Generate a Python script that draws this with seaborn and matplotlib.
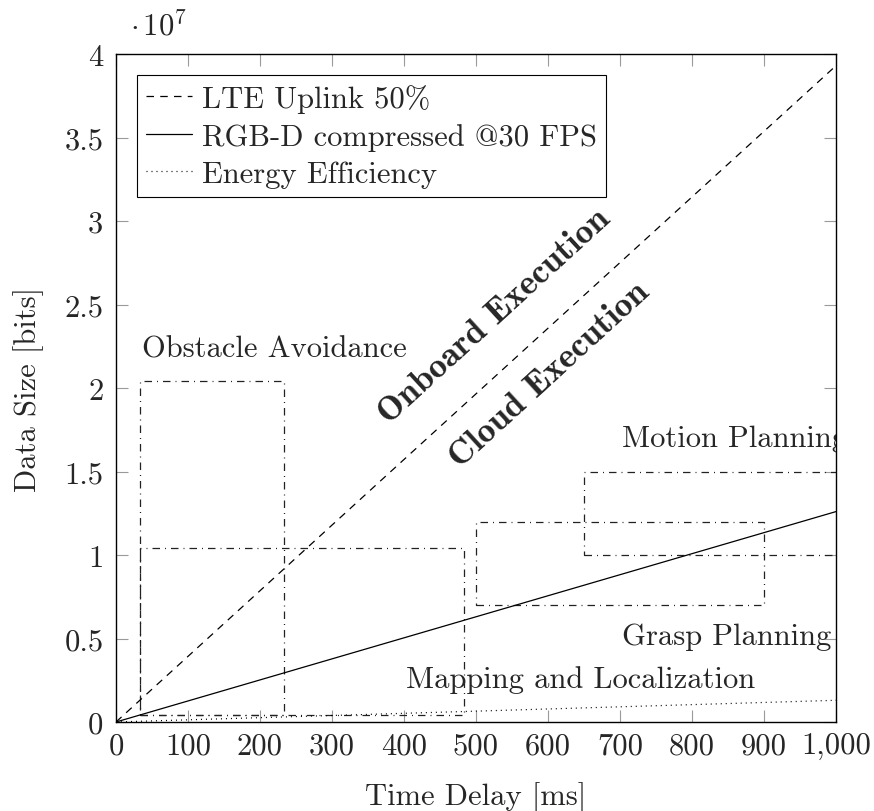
import numpy as np
import pandas as pd
import matplotlib
matplotlib.use("Agg")
import matplotlib.pyplot as plt
from matplotlib.patches import Rectangle
import seaborn as sns

# Link / sensor throughput lines (bits transferred vs. delay)
delay_ms = [0, 1000]
lte_uplink = [0, 3.93e7]
rgbd_30fps = [0, 1.26e7]
energy_eff = [0, 0.13e7]
series_labels = ["LTE Uplink 50%", "RGB-D compressed @30 FPS", "Energy Efficiency"]

# Task requirement regions: delay range [ms] and data size range [bits]
task_names = ["Obstacle Avoidance", "Mapping and Localization", "Grasp Planning", "Motion Planning"]
task_delay_min = [33, 33, 500, 650]
task_delay_max = [233, 483, 900, 1100]
task_size_min = [0.04e7, 0.04e7, 0.7e7, 1.0e7]
task_size_max = [2.04e7, 1.04e7, 1.2e7, 1.5e7]

# Label anchors for the task regions (data coordinates)
task_label_x = [36, 403, 703, 703]
task_label_y = [2.19e7, 0.21e7, 0.467e7, 1.655e7]

region_labels = ["Onboard Execution", "Cloud Execution"]
region_label_x = [526, 602]
region_label_y = [2.43e7, 2.08e7]

x_ticks = [0, 100, 200, 300, 400, 500, 600, 700, 800, 900, 1000]
x_tick_labels = ["0", "100", "200", "300", "400", "500", "600", "700", "800", "900", "1,000"]
y_ticks = [0, 0.5e7, 1e7, 1.5e7, 2e7, 2.5e7, 3e7, 3.5e7, 4e7]
y_tick_labels = ["0", "0.5", "1", "1.5", "2", "2.5", "3", "3.5", "4"]

sns.set_style("ticks")
plt.rcParams["font.family"] = ["cmr10", "DejaVu Serif"]
plt.rcParams["mathtext.fontset"] = "cm"
plt.rcParams["axes.unicode_minus"] = False
plt.rcParams["axes.formatter.use_mathtext"] = True

FS = 22
FS_BOLD = 25.5
LW = 0.9
DASHED = (0, (6.0, 5.0))
DOTTED = (0, (0.8, 3.2))
DASHDOT = (0, (6.0, 4.0, 0.8, 4.0))

fig = plt.figure(figsize=(8.74, 8.12), dpi=100)
ax = fig.add_axes([116 / 874, 89 / 812, 720 / 874, 668 / 812])

df = pd.DataFrame({"delay": delay_ms * 3,
                   "size": lte_uplink + rgbd_30fps + energy_eff,
                   "series": [series_labels[0]] * 2 + [series_labels[1]] * 2 + [series_labels[2]] * 2})

for label, ls in zip(series_labels, [DASHED, "-", DOTTED]):
    sub = df[df["series"] == label]
    sns.lineplot(data=sub, x="delay", y="size", ax=ax, color="black",
                 linewidth=LW, linestyle=ls, label=label, legend=False)

# Task requirement boxes
for x0, x1, y0, y1 in zip(task_delay_min, task_delay_max, task_size_min, task_size_max):
    ax.add_patch(Rectangle((x0, y0), x1 - x0, y1 - y0, fill=False,
                           edgecolor="#222222", linewidth=LW, linestyle=DASHDOT, clip_on=True))

for name, x, y in zip(task_names, task_label_x, task_label_y):
    ax.text(x, y, name, fontsize=FS, ha="left", va="baseline", clip_on=True)

for name, x, y in zip(region_labels, region_label_x, region_label_y):
    ax.text(x, y, name, fontsize=FS_BOLD, family="cmb10", rotation=42.5,
            rotation_mode="anchor", ha="center", va="center")

ax.set_xlim(0, 1000)
ax.set_ylim(0, 4e7)
ax.set_xticks(x_ticks)
ax.set_xticklabels(x_tick_labels, fontsize=FS)
ax.set_yticks(y_ticks)
ax.set_yticklabels(y_tick_labels, fontsize=FS)
ax.tick_params(direction="in", length=8.5, width=0.8, color="#9a9a9a",
               top=True, right=True, bottom=True, left=True)
ax.tick_params(axis="x", pad=7)
ax.tick_params(axis="y", pad=9)
for s in ax.spines.values():
    s.set_linewidth(1.0)
    s.set_color("black")

ax.set_xlabel("Time Delay [ms]", fontsize=FS, labelpad=16)
ax.set_ylabel("Data Size [bits]", fontsize=FS, labelpad=15)

fig.text(130 / 874, (812 - 35) / 812, r"$\cdot\,10^7$", fontsize=FS, ha="left", va="baseline")

handles = [plt.Line2D([], [], color="black", lw=LW, ls=ls) for ls in [DASHED, "-", DOTTED]]
leg = ax.legend(handles, series_labels, loc="upper left", bbox_to_anchor=(21 / 720, 1 - 21 / 668),
                fontsize=FS, frameon=True, fancybox=False, framealpha=1, edgecolor="black",
                handlelength=1.5, handletextpad=0.33, labelspacing=0.32, borderpad=0.3,
                borderaxespad=0)
leg.get_frame().set_linewidth(0.8)

fig.savefig("out.png", dpi=100)
